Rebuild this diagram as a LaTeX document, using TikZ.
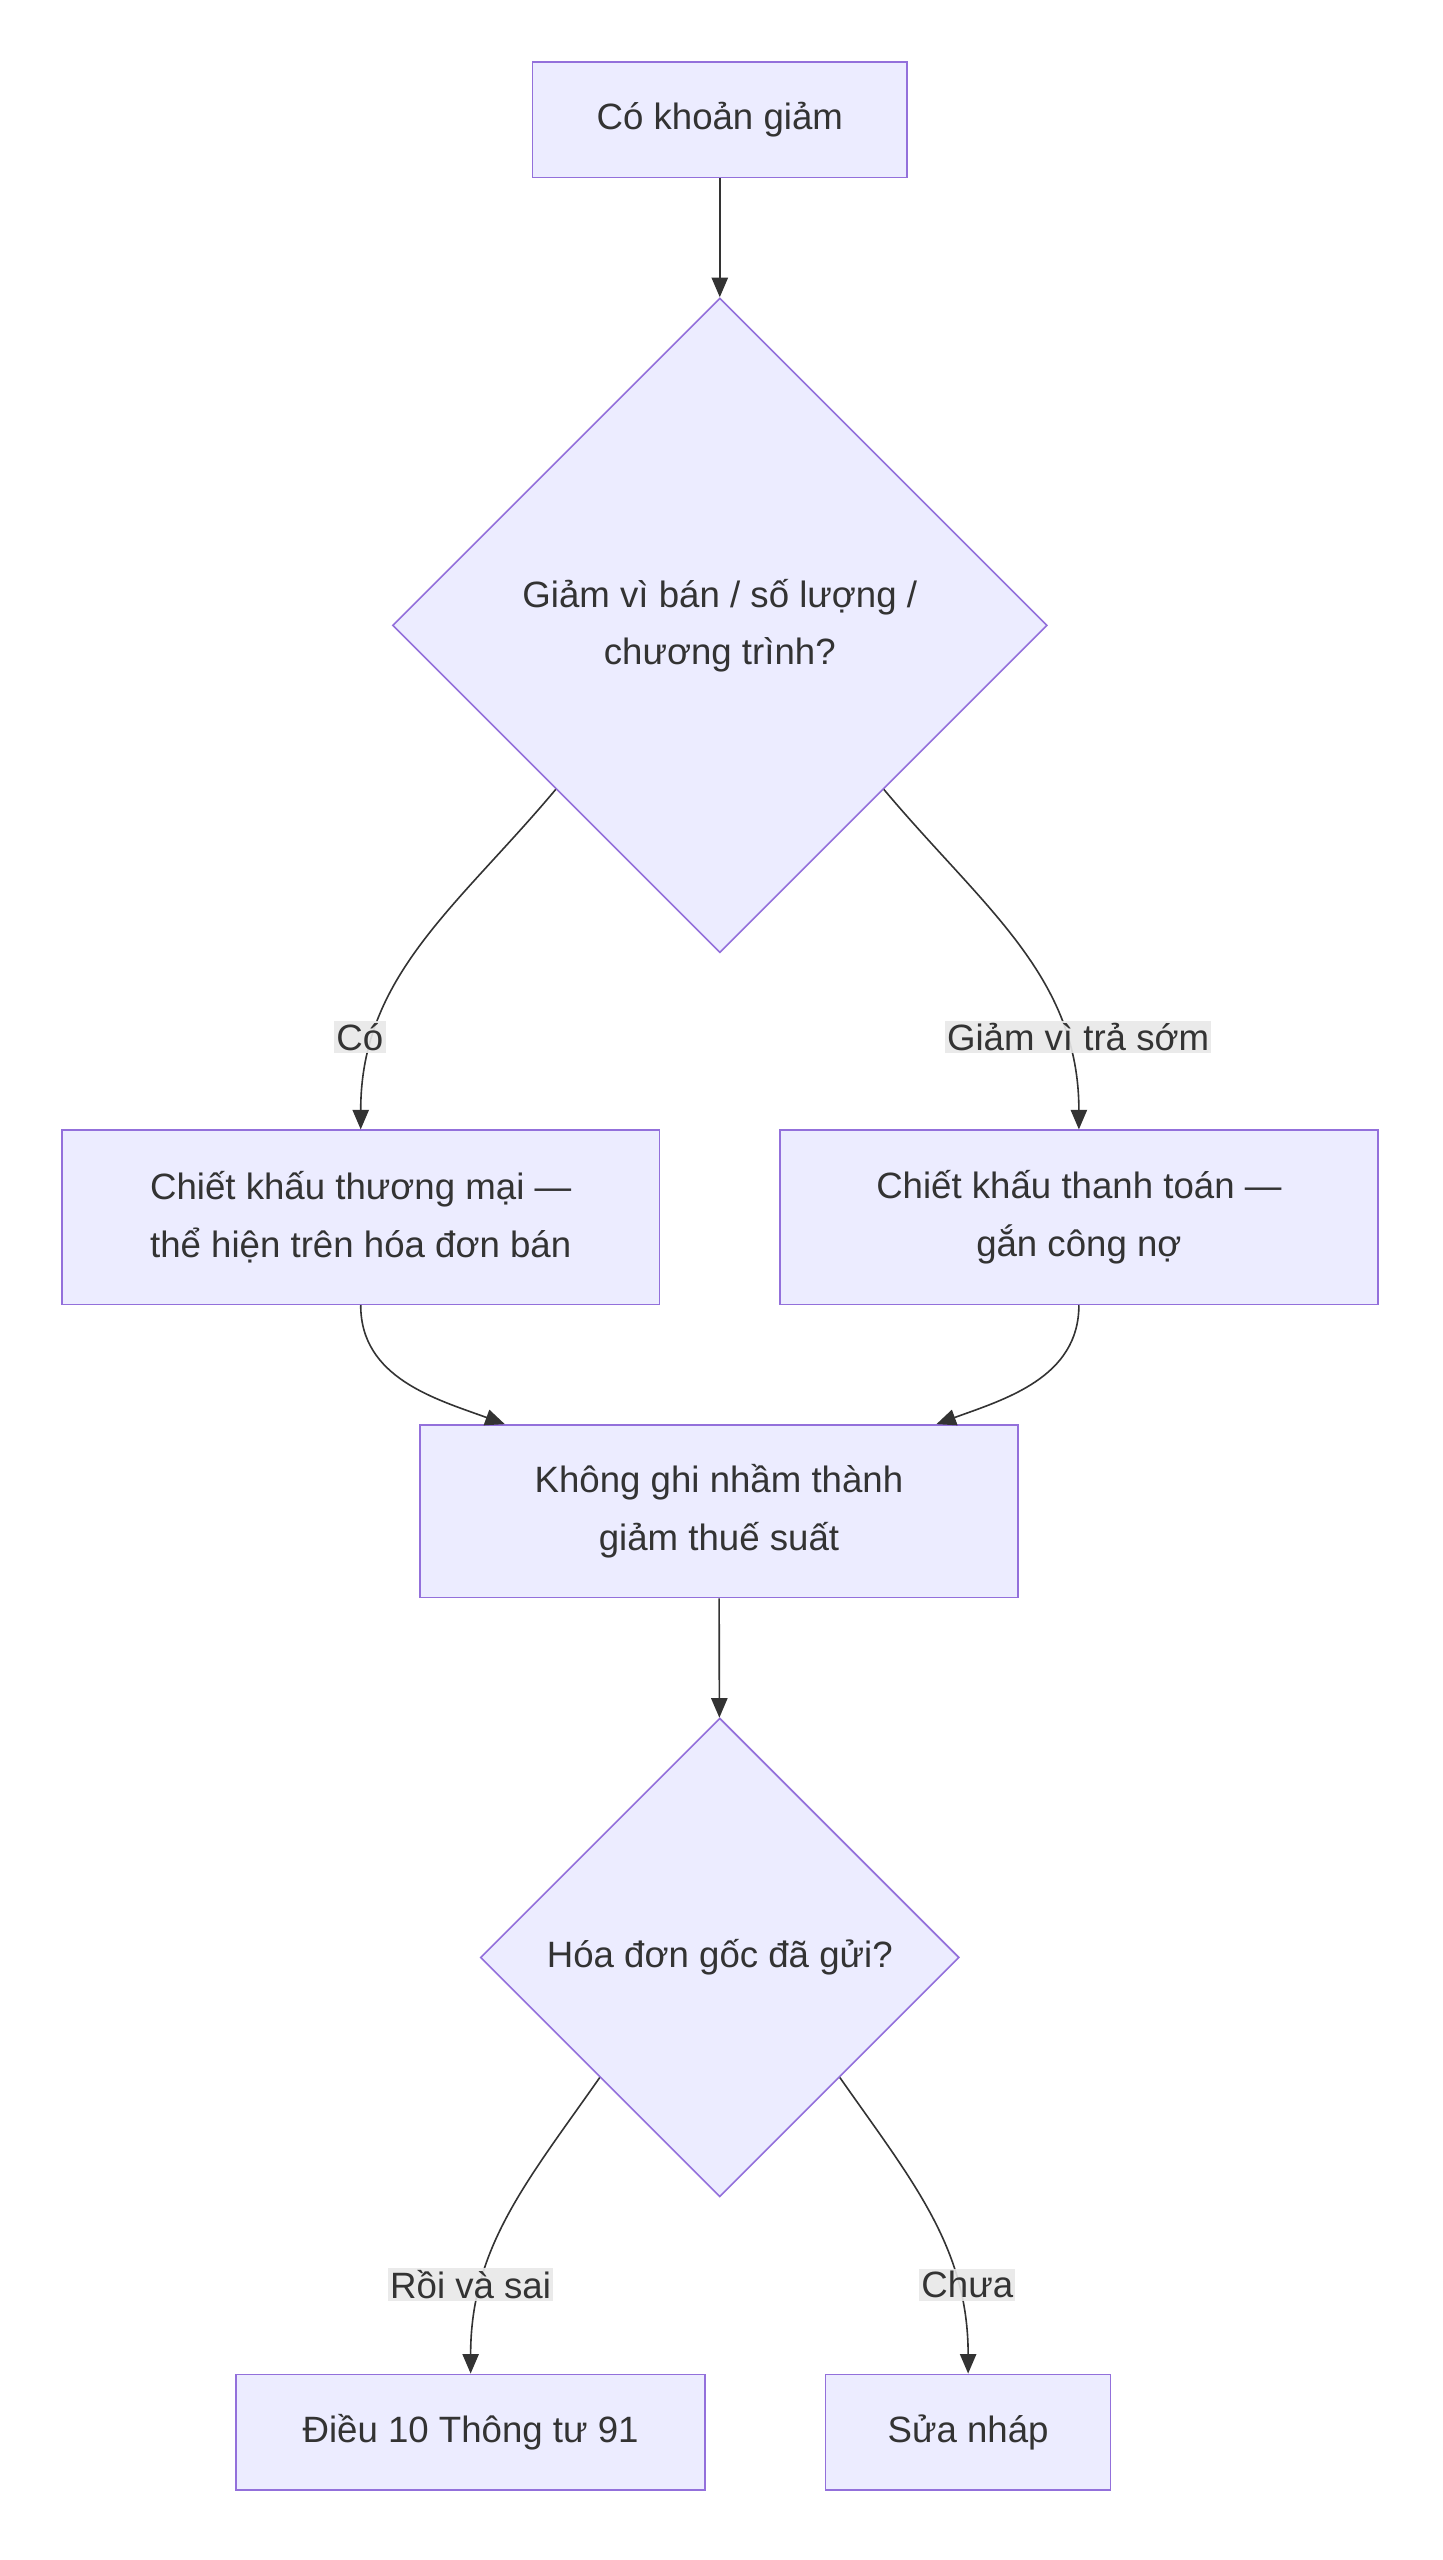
\documentclass[tikz,border=0pt]{standalone}
\usepackage{fontspec}
\setmainfont{Liberation Sans}
\usetikzlibrary{shapes.geometric,arrows.meta}
\definecolor{boxfill}{HTML}{ECECFF}
\definecolor{boxline}{HTML}{9370DB}
\definecolor{edgecol}{HTML}{333333}
\definecolor{lblfill}{HTML}{E8E8E8}
\begin{document}
\begin{tikzpicture}[x=0.05cm,y=-0.05cm,
	font=\fontsize{32}{50}\selectfont, text=edgecol,
	box/.style={shape=rectangle,draw=boxline,fill=boxfill,line width=1.4pt,align=center,inner sep=0pt},
	dia/.style={shape=diamond,aspect=1,draw=boxline,fill=boxfill,line width=1.4pt,align=center,inner sep=0pt},
	lbl/.style={fill=lblfill,fill opacity=0.9,text opacity=1,inner sep=2pt},
	arr/.style={draw=edgecol,line width=1.4pt,-{Triangle[length=0.6cm,width=0.5cm]}}]
	\useasboundingbox (0,0) rectangle (886,1572);

	\node[box,minimum width=11.5cm,minimum height=3.55cm] (start) at (442,73.5)   {Có khoản giảm};
	\node[dia,minimum width=20.1cm,minimum height=20.1cm] (why)   at (442,384)    {Giảm vì bán / số lượng /\\chương trình?};
	\node[box,minimum width=18.35cm,minimum height=5.35cm] (trade) at (221.5,747.5) {Chiết khấu thương mại —\\thể hiện trên hóa đơn bán};
	\node[box,minimum width=18.35cm,minimum height=5.35cm] (pay)   at (662.5,747.5) {Chiết khấu thanh toán —\\gắn công nợ};
	\node[box,minimum width=18.35cm,minimum height=5.3cm] (rate)  at (441.5,928)   {Không ghi nhầm thành\\giảm thuế suất};
	\node[dia,minimum width=14.7cm,minimum height=14.7cm] (sent)  at (442,1202)   {Hóa đơn gốc đã gửi?};
	\node[box,minimum width=14.4cm,minimum height=3.55cm] (art10) at (289,1493.5) {Điều 10 Thông tư 91};
	\node[box,minimum width=8.75cm,minimum height=3.55cm] (fix)   at (594.5,1493.5) {Sửa nháp};

	\path[arr] (start) -- (why);
	\path[arr] (why.south west) to[out=-130,in=90] (trade.north);
	\path[arr] (why.south east) to[out=-50,in=90] (pay.north);
	\path[arr] (trade.south) to[out=-90,in=160] (rate.north west -| 310,875);
	\path[arr] (pay.south) to[out=-90,in=20] (rate.north east -| 575,875);
	\path[arr] (rate) -- (sent);
	\path[arr] (sent.south west) to[out=-125,in=90] (art10.north);
	\path[arr] (sent.south east) to[out=-55,in=90] (fix.north);

	\node[lbl] (yes)   at (221,637)  {Có};
	\node[lbl] (early) at (662,637)  {Giảm vì trả sớm};
	\node[lbl] (wrong) at (289,1403) {Rồi và sai};
	\node[lbl] (notyet) at (594,1403) {Chưa};
\end{tikzpicture}
\end{document}
